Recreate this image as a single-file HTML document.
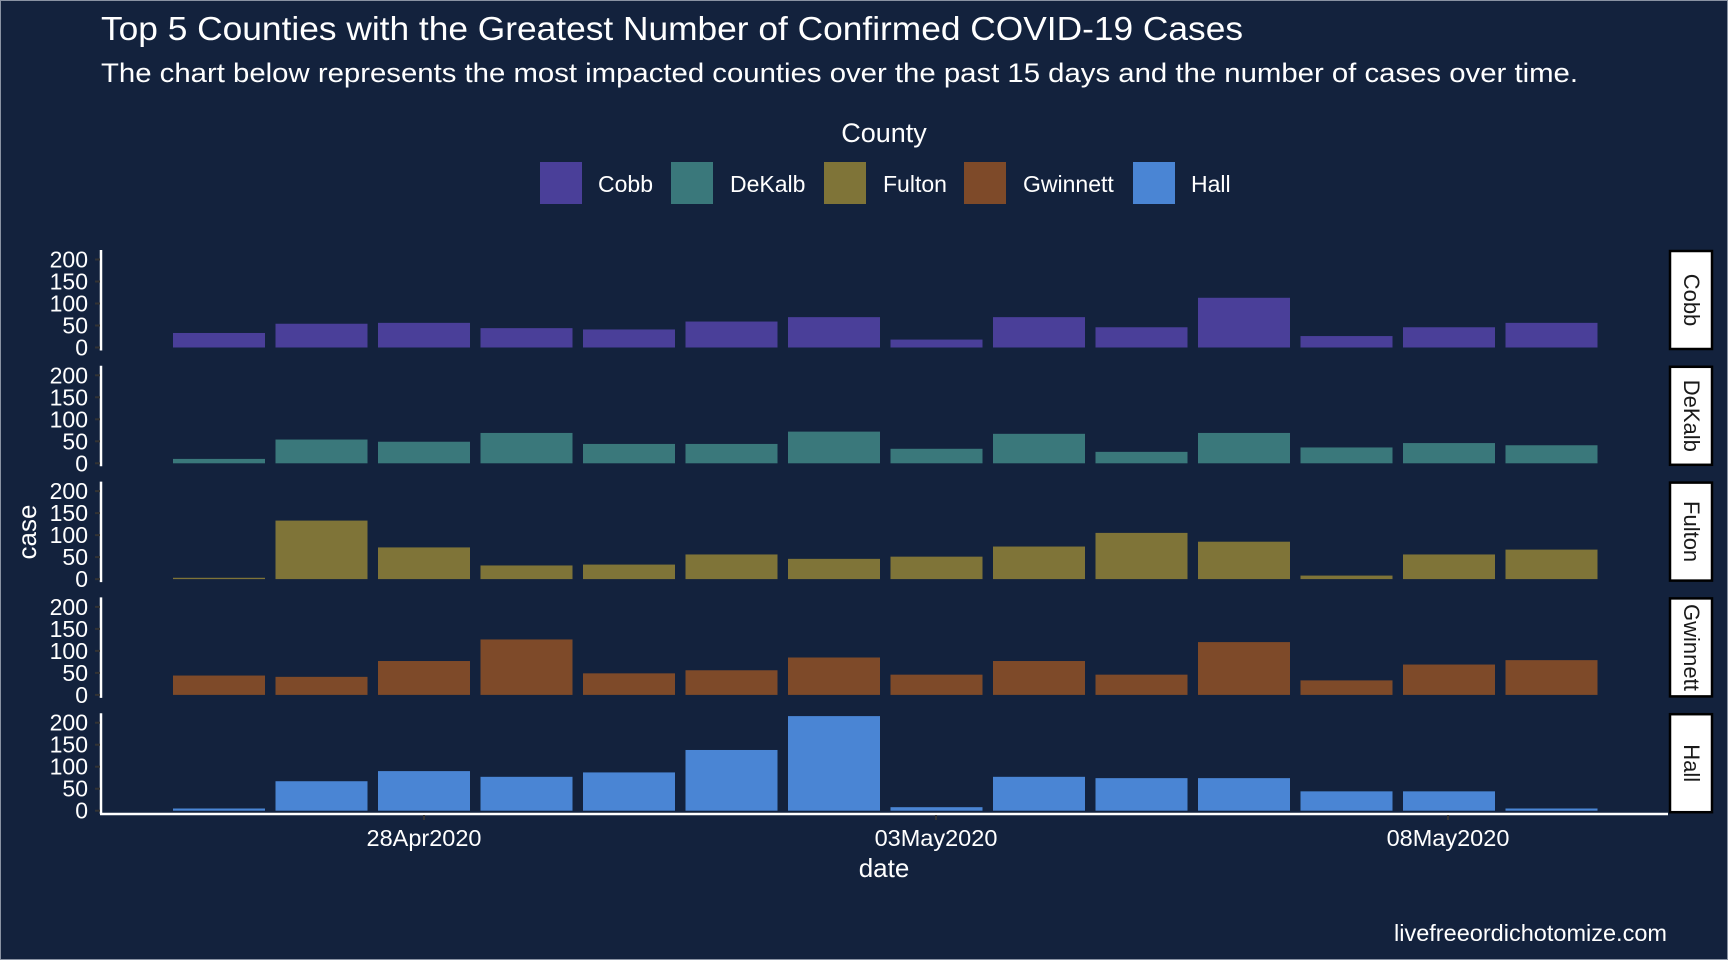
<!DOCTYPE html>
<html><head><meta charset="utf-8"><style>
html,body{margin:0;padding:0;background:#13223d;}
svg{display:block;font-family:"Liberation Sans",Arial,sans-serif;}
</style></head><body>
<svg width="1728" height="960" viewBox="0 0 1728 960" xmlns="http://www.w3.org/2000/svg">
<rect x="0.5" y="0.5" width="1727" height="959" fill="#13223d" stroke="#8a93a3" stroke-width="1"/>
<text x="101" y="40" fill="#fff" font-size="33" textLength="1142" lengthAdjust="spacingAndGlyphs">Top 5 Counties with the Greatest Number of Confirmed COVID-19 Cases</text>
<text x="101" y="82" fill="#fff" font-size="27" textLength="1477" lengthAdjust="spacingAndGlyphs">The chart below represents the most impacted counties over the past 15 days and the number of cases over time.</text>
<text x="884" y="142" fill="#fff" font-size="27" text-anchor="middle">County</text>
<g font-size="23" fill="#fff">
<rect x="540" y="162" width="42" height="42" fill="#4a3f99"/><text x="598" y="192">Cobb</text>
<rect x="671" y="162" width="42" height="42" fill="#3a787b"/><text x="730" y="192">DeKalb</text>
<rect x="824" y="162" width="42" height="42" fill="#7f7438"/><text x="883" y="192">Fulton</text>
<rect x="964" y="162" width="42" height="42" fill="#7e4a29"/><text x="1023" y="192">Gwinnett</text>
<rect x="1133" y="162" width="42" height="42" fill="#4a85d4"/><text x="1191" y="192">Hall</text>
</g>
<g id="panels"></g>
<line x1="100" y1="814" x2="1668" y2="814" stroke="#fff" stroke-width="2.5"/>
<g stroke="#333" stroke-width="2"><line x1="424" y1="815" x2="424" y2="820"/><line x1="936" y1="815" x2="936" y2="820"/><line x1="1448" y1="815" x2="1448" y2="820"/></g>
<g font-size="23.5" fill="#fff" text-anchor="middle">
<text x="424" y="846">28Apr2020</text><text x="936" y="846">03May2020</text><text x="1448" y="846">08May2020</text>
</g>
<text x="884" y="877" fill="#fff" font-size="26" text-anchor="middle">date</text>
<text transform="translate(36,532) rotate(-90)" fill="#fff" font-size="26" text-anchor="middle">case</text>
<text x="1667" y="941" fill="#fff" font-size="23.5" text-anchor="end">livefreeordichotomize.com</text>
</svg>
<script>
const data={
Cobb:[33,54,56,44,41,59,69,18,69,46,113,26,46,56],
DeKalb:[10,54,49,69,44,44,72,33,67,26,69,36,46,41],
Fulton:[3,133,72,31,33,56,46,51,74,105,85,8,56,67],
Gwinnett:[44,41,77,126,49,56,85,46,77,46,120,33,69,79],
Hall:[5,67,90,77,87,138,215,8,77,74,74,44,44,5]};
const cols={Cobb:"#4a3f99",DeKalb:"#3a787b",Fulton:"#7f7438",Gwinnett:"#7e4a29",Hall:"#4a85d4"};
let s="";const names=Object.keys(data);
names.forEach((n,i)=>{
 const top=252+115.8*i, zero=top+95.5, k=0.44;
 s+=`<line x1="101" y1="${top-2}" x2="101" y2="${zero+3}" stroke="#fff" stroke-width="2.5"/>`;
 for(let v=0;v<=200;v+=50){const y=zero-v*k;
  s+=`<line x1="95" y1="${y}" x2="100" y2="${y}" stroke="#333" stroke-width="2"/>`;
  s+=`<text x="88" y="${y+8}" fill="#fff" font-size="23" text-anchor="end">${v}</text>`;}
 data[n].forEach((v,j)=>{const cx=219+102.5*j,h=v*k;
  s+=`<rect x="${cx-46}" y="${zero-h}" width="92" height="${h}" fill="${cols[n]}"/>`;});
 s+=`<rect x="1670" y="${top-1}" width="42" height="98" fill="#fff" stroke="#000" stroke-width="2.5"/>`;
 s+=`<text transform="translate(1684,${top+48}) rotate(90)" font-size="22" fill="#1a1a1a" text-anchor="middle">${n}</text>`;
});
document.getElementById("panels").innerHTML=s;
</script>
</body></html>
